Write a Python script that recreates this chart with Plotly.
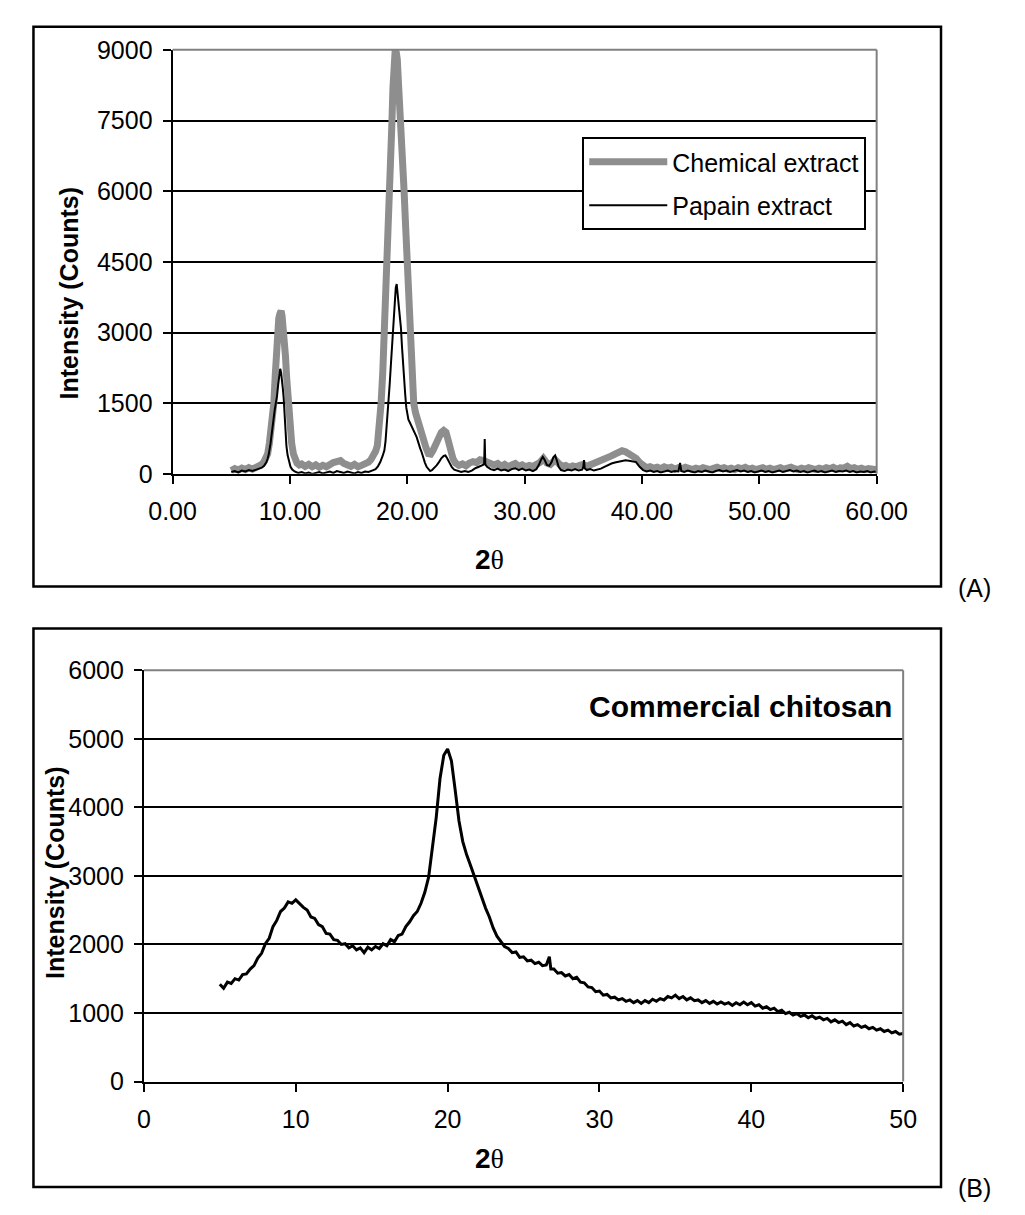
import plotly.graph_objects as go

W, H = 1025, 1215

# ---------------- Data ----------------
chem_x = [5.0, 5.3, 5.6, 5.9, 6.2, 6.5, 6.8, 7.1, 7.4, 7.6, 7.8, 8.0, 8.1, 8.25, 8.4, 8.52, 8.63, 8.75, 8.85, 8.95,
          9.05, 9.15, 9.25, 9.33, 9.42, 9.52, 9.62, 9.72, 9.82, 9.92, 10.02, 10.15, 10.3, 10.45, 10.6, 10.8, 11.0,
          11.3, 11.6, 11.9, 12.2, 12.5, 12.8, 13.1, 13.4, 13.7, 14.0, 14.3, 14.6, 14.9, 15.2, 15.5, 15.8, 16.1,
          16.4, 16.7, 16.9, 17.1, 17.3, 17.45, 17.6, 17.77, 17.92, 18.06, 18.16, 18.26, 18.4, 18.53, 18.67, 18.78,
          18.88, 18.97, 19.06, 19.15, 19.25, 19.35, 19.46, 19.6, 19.73, 19.87, 20.0, 20.1, 20.2, 20.32, 20.45,
          20.55, 20.7, 20.85, 21.0, 21.2, 21.4, 21.6, 21.8, 22.0, 22.2, 22.45, 22.7, 22.9, 23.1, 23.3, 23.5, 23.7,
          23.9, 24.1, 24.4, 24.7, 25.0, 25.3, 25.6, 25.9, 26.2, 26.5, 26.8, 27.1, 27.4, 27.7, 28.0, 28.3, 28.6,
          28.9, 29.2, 29.5, 29.8, 30.1, 30.4, 30.7, 31.0, 31.3, 31.6, 31.9, 32.2, 32.6, 32.9, 33.2, 33.5, 33.8,
          34.1, 34.4, 34.7, 35.0, 35.3, 35.6, 35.9, 36.2, 36.5, 36.8, 37.1, 37.4, 37.7, 38.0, 38.3, 38.6, 38.9,
          39.2, 39.5, 39.8, 40.1, 40.4, 40.7, 41.0, 41.3, 41.6, 41.9, 42.2, 42.5, 42.8, 43.1, 43.4, 43.7, 44.0,
          44.3, 44.6, 44.9, 45.2, 45.5, 45.8, 46.1, 46.4, 46.7, 47.0, 47.3, 47.6, 47.9, 48.2, 48.5, 48.8, 49.1,
          49.4, 49.7, 50.0, 50.3, 50.6, 50.9, 51.2, 51.5, 51.8, 52.1, 52.4, 52.7, 53.0, 53.3, 53.6, 53.9, 54.2,
          54.5, 54.8, 55.1, 55.4, 55.7, 56.0, 56.3, 56.6, 56.9, 57.2, 57.5, 57.8, 58.1, 58.4, 58.7, 59.0, 59.3,
          59.6, 60.0]
chem_y = [70, 110, 80, 120, 90, 130, 100, 140, 150, 200, 260, 350, 420, 650, 900, 1200, 1500, 2100, 2700, 3100,
          3300, 3400, 3460, 3350, 3150, 2900, 2500, 2050, 1600, 1250, 950, 650, 420, 300, 230, 190, 210,
          160, 200, 150, 190, 140, 180, 150, 210, 240, 260, 280, 220, 190, 160, 200, 150, 180,
          210, 250, 300, 380, 480, 600, 900, 1500, 2200, 3000, 3700, 4500, 5300, 6000, 7300, 8200,
          8800, 9000, 8950, 8800, 8300, 7900, 7400, 6700, 6000, 5200, 4500, 3700, 3000, 2400, 1800,
          1500, 1300, 1150, 1000, 850, 700, 550, 430, 420, 500, 650, 800, 880, 920, 880, 700, 480,
          320, 230, 180, 210, 170, 230, 260, 240, 300, 280, 250, 220, 190, 220, 160, 200, 150,
          190, 220, 160, 190, 150, 180, 160, 200, 240, 330, 230, 200, 300, 220, 160, 180, 140,
          170, 150, 180, 200, 160, 190, 210, 230, 260, 300, 340, 380, 420, 450, 490, 470, 430,
          390, 330, 240, 160, 130, 150, 120, 140, 110, 150, 120, 140, 100, 130, 110, 140, 120,
          90, 120, 100, 130, 110, 90, 120, 140, 110, 130, 100, 120, 90, 130, 110, 140, 100,
          120, 90, 110, 130, 100, 120, 90, 110, 130, 100, 120, 140, 110, 90, 120, 100, 130,
          110, 90, 120, 100, 130, 110, 140, 100, 130, 120, 160, 110, 130, 100, 120, 90, 110,
          100, 90]

pap_x = [5.0, 5.3, 5.6, 5.9, 6.2, 6.5, 6.8, 7.1, 7.4, 7.6, 7.8, 8.0, 8.1, 8.2, 8.35, 8.5, 8.6, 8.7, 8.8, 8.9,
         9.0, 9.08, 9.17, 9.25, 9.33, 9.4, 9.47, 9.55, 9.62, 9.7, 9.8, 9.92, 10.05, 10.2, 10.4, 10.7, 11.0, 11.3,
         11.6, 11.9, 12.2, 12.5, 12.8, 13.1, 13.4, 13.7, 14.0, 14.3, 14.6, 14.9, 15.2, 15.5, 15.8, 16.1, 16.4,
         16.7, 17.0, 17.3, 17.5, 17.7, 17.9, 18.05, 18.15, 18.25, 18.39, 18.5, 18.6, 18.7, 18.8, 18.88, 18.95,
         19.02, 19.1, 19.16, 19.22, 19.3, 19.38, 19.46, 19.55, 19.63, 19.73, 19.82, 19.92, 20.0, 20.1, 20.2,
         20.3, 20.4, 20.5, 20.6, 20.7, 20.8, 20.9, 21.0, 21.1, 21.2, 21.35, 21.5, 21.65, 21.8, 21.95, 22.1,
         22.3, 22.5, 22.7, 22.9, 23.1, 23.25, 23.4, 23.6, 23.8, 24.0, 24.3, 24.6, 24.9, 25.2, 25.5, 25.8,
         26.1, 26.4, 26.55, 26.6, 26.65, 26.8, 27.1, 27.4, 27.7, 28.0, 28.3, 28.6, 28.9, 29.2, 29.5, 29.8,
         30.1, 30.4, 30.7, 31.0, 31.2, 31.4, 31.55, 31.7, 31.9, 32.1, 32.3, 32.45, 32.6, 32.75, 32.9, 33.1,
         33.4, 33.7, 34.0, 34.3, 34.6, 34.9, 35.0, 35.06, 35.12, 35.3, 35.6, 35.9, 36.2, 36.5, 36.8, 37.1,
         37.4, 37.7, 38.0, 38.3, 38.6, 38.9, 39.2, 39.5, 39.8, 40.1, 40.4, 40.7, 41.0, 41.3, 41.6, 41.9,
         42.2, 42.5, 42.8, 43.1, 43.25, 43.35, 43.6, 43.9, 44.2, 44.5, 44.8, 45.1, 45.4, 45.7, 46.0, 46.3,
         46.6, 46.9, 47.2, 47.5, 47.8, 48.1, 48.4, 48.7, 49.0, 49.3, 49.6, 49.9, 50.2, 50.5, 50.8, 51.1,
         51.4, 51.7, 52.0, 52.3, 52.6, 52.9, 53.2, 53.5, 53.8, 54.1, 54.4, 54.7, 55.0, 55.3, 55.6, 55.9,
         56.2, 56.5, 56.8, 57.1, 57.4, 57.7, 58.0, 58.3, 58.6, 58.9, 59.2, 59.5, 59.8, 60.0]
pap_y = [40, 60, 30, 70, 50, 80, 60, 90, 110, 130, 170, 250, 320, 420, 650, 1000, 1200, 1350, 1500, 1650,
         1900, 2100, 2230, 2150, 2000, 1800, 1600, 1200, 850, 600, 400, 250, 150, 90, 50, 20, 40, 10,
         30, 0, 20, 40, 10, 30, 50, 20, 60, 40, 20, 50, 30, 10, 40, 20, 50,
         40, 70, 100, 160, 250, 380, 500, 700, 1000, 1500, 1900, 2300, 2700, 3200, 3500, 3700,
         3950, 4030, 3800, 3650, 3500, 3300, 3100, 2700, 2350, 2090, 1700, 1400, 1260, 1150, 1100,
         1050, 1000, 950, 900, 850, 780, 700, 600, 540, 480, 350, 240, 150, 90, 60, 80,
         120, 180, 250, 330, 380, 390, 330, 230, 140, 90, 60, 40, 60, 40, 70, 120,
         150, 180, 200, 740, 200, 150, 100, 80, 110, 70, 90, 60, 100, 120, 80, 110,
         70, 90, 60, 100, 180, 300, 360, 300, 190, 170, 250, 350, 390, 280, 150, 80,
         60, 90, 70, 100, 70, 90, 150, 290, 120, 80, 100, 70, 90, 110, 150, 190,
         220, 240, 260, 270, 290, 280, 270, 250, 150, 80, 50, 70, 40, 60, 30, 50,
         70, 40, 60, 50, 230, 60, 40, 70, 50, 30, 60, 40, 70, 50, 30, 60,
         80, 50, 70, 40, 60, 80, 50, 70, 40, 60, 30, 50, 70, 40, 60, 30,
         50, 70, 40, 60, 80, 50, 70, 40, 60, 30, 50, 70, 40, 60, 30, 50,
         70, 40, 60, 50, 70, 40, 60, 30, 50, 40, 60, 30, 50, 40]

com_x = [5.0, 5.25, 5.5, 5.75, 6.0, 6.25, 6.5, 6.75, 7.0, 7.25, 7.5, 7.75, 8.0, 8.25, 8.5, 8.75, 9.0, 9.25,
         9.5, 9.75, 10.0, 10.25, 10.5, 10.75, 11.0, 11.25, 11.5, 11.75, 12.0, 12.25, 12.5, 12.75, 13.0, 13.25,
         13.5, 13.75, 14.0, 14.25, 14.5, 14.75, 15.0, 15.25, 15.5, 15.75, 16.0, 16.25, 16.5, 16.75, 17.0,
         17.25, 17.5, 17.75, 18.0, 18.25, 18.5, 18.75, 19.0, 19.25, 19.5, 19.75, 20.0, 20.25, 20.5, 20.75,
         21.0, 21.25, 21.5, 21.75, 22.0, 22.25, 22.5, 22.75, 23.0, 23.25, 23.5, 23.75, 24.0, 24.25, 24.5,
         24.75, 25.0, 25.25, 25.5, 25.75, 26.0, 26.25, 26.5, 26.7, 26.8, 27.0, 27.25, 27.5, 27.75, 28.0,
         28.25, 28.5, 28.75, 29.0, 29.25, 29.5, 29.75, 30.0, 30.25, 30.5, 30.75, 31.0, 31.25, 31.5, 31.75,
         32.0, 32.25, 32.5, 32.75, 33.0, 33.25, 33.5, 33.75, 34.0, 34.25, 34.5, 34.75, 35.0, 35.25, 35.5,
         35.75, 36.0, 36.25, 36.5, 36.75, 37.0, 37.25, 37.5, 37.75, 38.0, 38.25, 38.5, 38.75, 39.0, 39.25,
         39.5, 39.75, 40.0, 40.25, 40.5, 40.75, 41.0, 41.25, 41.5, 41.75, 42.0, 42.25, 42.5, 42.75, 43.0,
         43.25, 43.5, 43.75, 44.0, 44.25, 44.5, 44.75, 45.0, 45.25, 45.5, 45.75, 46.0, 46.25, 46.5, 46.75,
         47.0, 47.25, 47.5, 47.75, 48.0, 48.25, 48.5, 48.75, 49.0, 49.25, 49.5, 49.75, 50.0]
com_y = [1420, 1360, 1450, 1430, 1500, 1480, 1560, 1570, 1640, 1690, 1800, 1870, 2010, 2090, 2260, 2350, 2480,
         2530, 2620, 2600, 2650, 2590, 2540, 2500, 2400, 2380, 2290, 2260, 2160, 2150, 2070, 2060, 2000,
         2010, 1950, 1980, 1920, 1950, 1880, 1960, 1920, 1970, 1940, 2010, 1980, 2070, 2040, 2130, 2150,
         2260, 2330, 2420, 2480, 2600, 2760, 2980, 3380, 3850, 4420, 4760, 4850, 4680, 4250, 3800,
         3500, 3310, 3160, 3000, 2830, 2700, 2530, 2400, 2240, 2120, 2050, 1970, 1940, 1880, 1890,
         1810, 1820, 1760, 1770, 1720, 1740, 1690, 1700, 1820, 1640, 1640, 1580, 1590, 1540, 1560,
         1500, 1520, 1450, 1440, 1380, 1370, 1310, 1320, 1260, 1270, 1220, 1230, 1190, 1210, 1170,
         1190, 1150, 1180, 1140, 1180, 1150, 1200, 1170, 1210, 1190, 1240, 1220, 1260, 1210, 1240,
         1190, 1220, 1180, 1190, 1150, 1180, 1140, 1170, 1130, 1160, 1130, 1150, 1110, 1150, 1120,
         1160, 1120, 1150, 1100, 1120, 1070, 1090, 1050, 1070, 1020, 1040, 990, 1010, 970, 990,
         950, 970, 930, 960, 920, 940, 900, 920, 870, 900, 860, 880, 830, 860, 810,
         830, 790, 810, 770, 790, 750, 770, 730, 750, 710, 730, 690, 700]

a_xticks = [0, 10, 20, 30, 40, 50, 60]
a_yticks = [0, 1500, 3000, 4500, 6000, 7500, 9000]
b_xticks = [0, 10, 20, 30, 40, 50]
b_yticks = [0, 1000, 2000, 3000, 4000, 5000, 6000]

# ---------------- Layout helpers (pixel -> paper) ----------------
def px(x):
    return x / W

def py(y):
    return 1 - y / H

FONT = "Liberation Sans, Arial, sans-serif"
TICKF = dict(family=FONT, size=25, color="black")

fig = go.Figure()
fig.add_trace(go.Scatter(x=chem_x, y=chem_y, mode="lines", name="Chemical extract",
                         line=dict(color="#8e8e8e", width=7), xaxis="x", yaxis="y",
                         legendgroup="a"))
fig.add_trace(go.Scatter(x=pap_x, y=pap_y, mode="lines", name="Papain extract",
                         line=dict(color="black", width=2), xaxis="x", yaxis="y",
                         legendgroup="b"))
fig.add_trace(go.Scatter(x=com_x, y=com_y, mode="lines", name="Commercial chitosan",
                         line=dict(color="black", width=3), xaxis="x2", yaxis="y2",
                         showlegend=False))

axis_common = dict(showline=True, linecolor="black", linewidth=2, ticks="outside", ticklen=8,
                   tickwidth=2, tickcolor="black", tickfont=TICKF, zeroline=False)

fig.update_layout(
    width=W, height=H, autosize=False,
    margin=dict(l=0, r=0, t=0, b=0),
    paper_bgcolor="white", plot_bgcolor="white",
    xaxis=dict(domain=[px(157), px(901)], range=[0, 60], tickvals=a_xticks, tickformat=".2f",
               showgrid=False, anchor="y", ticklabelstandoff=6, **axis_common),
    yaxis=dict(domain=[py(470.7), py(36.7)], range=[0, 9000], tickvals=a_yticks,
               showgrid=True, gridcolor="black", gridwidth=2, anchor="x", ticklabelstandoff=5,
               **axis_common),
    xaxis2=dict(domain=[px(126.7), px(929)], range=[0, 50], tickvals=b_xticks,
                showgrid=False, anchor="y2", ticklabelstandoff=6, **axis_common),
    yaxis2=dict(domain=[py(1092.7), py(671.7)], range=[0, 6000], tickvals=b_yticks,
                showgrid=True, gridcolor="black", gridwidth=2, anchor="x2", ticklabelstandoff=5,
                **axis_common),
    legend=dict(x=px(890), y=py(126), xanchor="right", yanchor="top",
                bgcolor="white", bordercolor="black", borderwidth=2,
                font=dict(family=FONT, size=25, color="black"), itemwidth=78,
                tracegroupgap=8),
    showlegend=True,
)

shapes = []
# outer chart boxes
shapes.append(dict(type="rect", xref="paper", yref="paper", x0=px(10), x1=px(969), y0=py(586), y1=py(13),
                   line=dict(color="black", width=2.5), fillcolor="rgba(0,0,0,0)", layer="below"))
shapes.append(dict(type="rect", xref="paper", yref="paper", x0=px(10), x1=px(969), y0=py(1200.7), y1=py(629),
                   line=dict(color="black", width=2.5), fillcolor="rgba(0,0,0,0)", layer="below"))
# gray plot-area borders (top and right)
for xr, yr in (("x", "y"), ("x2", "y2")):
    shapes.append(dict(type="line", xref=f"{xr} domain", yref=f"{yr} domain", x0=0, x1=1, y0=1, y1=1,
                       line=dict(color="#808080", width=2)))
    shapes.append(dict(type="line", xref=f"{xr} domain", yref=f"{yr} domain", x0=1, x1=1, y0=0, y1=1,
                       line=dict(color="#808080", width=2)))
fig.update_layout(shapes=shapes)

theta = "<b>2</b><span style='font-family:Liberation Serif, serif'>θ</span>"
ann = [
    dict(text=theta, x=px(492), y=py(558), xref="paper", yref="paper", showarrow=False,
         font=dict(family=FONT, size=28, color="black"), xanchor="center", yanchor="middle"),
    dict(text=theta, x=px(492), y=py(1172), xref="paper", yref="paper", showarrow=False,
         font=dict(family=FONT, size=28, color="black"), xanchor="center", yanchor="middle"),
    dict(text="<b>Intensity (Counts)</b>", x=px(48), y=py(285.6), xref="paper", yref="paper",
         showarrow=False, textangle=-90, font=dict(family=FONT, size=25, color="black"),
         xanchor="center", yanchor="middle"),
    dict(text="<b>Intensity (Counts)</b>", x=px(33), y=py(879), xref="paper", yref="paper",
         showarrow=False, textangle=-90, font=dict(family=FONT, size=25, color="black"),
         xanchor="center", yanchor="middle"),
    dict(text="<b>Commercial chitosan</b>", x=px(919), y=py(709), xref="paper", yref="paper",
         showarrow=False, font=dict(family=FONT, size=30, color="black"),
         xanchor="right", yanchor="middle"),
    dict(text="(A)", x=px(1004), y=py(588), xref="paper", yref="paper", showarrow=False,
         font=dict(family=FONT, size=25, color="black"), xanchor="center", yanchor="middle"),
    dict(text="(B)", x=px(1004), y=py(1202), xref="paper", yref="paper", showarrow=False,
         font=dict(family=FONT, size=25, color="black"), xanchor="center", yanchor="middle"),
]
fig.update_layout(annotations=ann)

fig.write_html("out.html")
